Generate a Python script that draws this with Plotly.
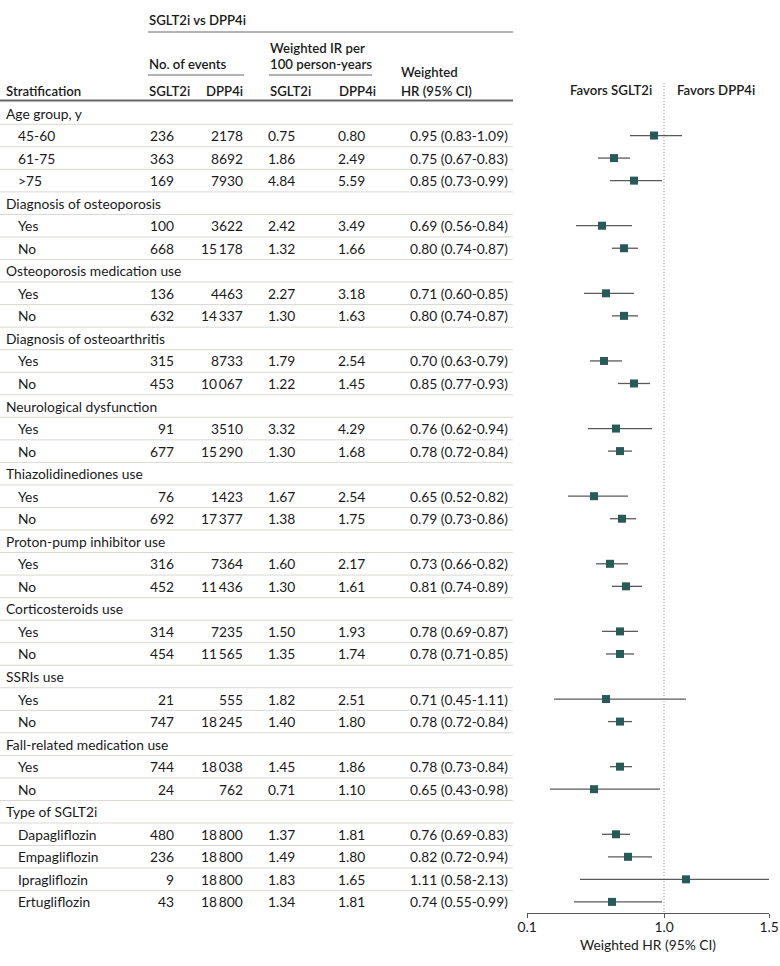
import plotly.graph_objects as go

# ---------------- data ----------------
row_labels = [
    "Age group, y", "45-60", "61-75", ">75",
    "Diagnosis of osteoporosis", "Yes", "No",
    "Osteoporosis medication use", "Yes", "No",
    "Diagnosis of osteoarthritis", "Yes", "No",
    "Neurological dysfunction", "Yes", "No",
    "Thiazolidinediones use", "Yes", "No",
    "Proton-pump inhibitor use", "Yes", "No",
    "Corticosteroids use", "Yes", "No",
    "SSRIs use", "Yes", "No",
    "Fall-related medication use", "Yes", "No",
    "Type of SGLT2i", "Dapagliflozin", "Empagliflozin", "Ipragliflozin", "Ertugliflozin",
]
is_group = [True, False, False, False] + [True, False, False] * 9 + [True, False, False, False, False]

sglt2_events = [None, 236, 363, 169, None, 100, 668, None, 136, 632, None, 315, 453,
                None, 91, 677, None, 76, 692, None, 316, 452, None, 314, 454,
                None, 21, 747, None, 744, 24, None, 480, 236, 9, 43]
dpp4_events = [None, 2178, 8692, 7930, None, 3622, 15178, None, 4463, 14337, None, 8733, 10067,
               None, 3510, 15290, None, 1423, 17377, None, 7364, 11436, None, 7235, 11565,
               None, 555, 18245, None, 18038, 762, None, 18800, 18800, 18800, 18800]
sglt2_ir = [None, 0.75, 1.86, 4.84, None, 2.42, 1.32, None, 2.27, 1.30, None, 1.79, 1.22,
            None, 3.32, 1.30, None, 1.67, 1.38, None, 1.60, 1.30, None, 1.50, 1.35,
            None, 1.82, 1.40, None, 1.45, 0.71, None, 1.37, 1.49, 1.83, 1.34]
dpp4_ir = [None, 0.80, 2.49, 5.59, None, 3.49, 1.66, None, 3.18, 1.63, None, 2.54, 1.45,
           None, 4.29, 1.68, None, 2.54, 1.75, None, 2.17, 1.61, None, 1.93, 1.74,
           None, 2.51, 1.80, None, 1.86, 1.10, None, 1.81, 1.80, 1.65, 1.81]
hr = [None, 0.95, 0.75, 0.85, None, 0.69, 0.80, None, 0.71, 0.80, None, 0.70, 0.85,
      None, 0.76, 0.78, None, 0.65, 0.79, None, 0.73, 0.81, None, 0.78, 0.78,
      None, 0.71, 0.78, None, 0.78, 0.65, None, 0.76, 0.82, 1.11, 0.74]
hr_lo = [None, 0.83, 0.67, 0.73, None, 0.56, 0.74, None, 0.60, 0.74, None, 0.63, 0.77,
         None, 0.62, 0.72, None, 0.52, 0.73, None, 0.66, 0.74, None, 0.69, 0.71,
         None, 0.45, 0.72, None, 0.73, 0.43, None, 0.69, 0.72, 0.58, 0.55]
hr_hi = [None, 1.09, 0.83, 0.99, None, 0.84, 0.87, None, 0.85, 0.87, None, 0.79, 0.93,
         None, 0.94, 0.84, None, 0.82, 0.86, None, 0.82, 0.89, None, 0.87, 0.85,
         None, 1.11, 0.84, None, 0.84, 0.98, None, 0.83, 0.94, 2.13, 0.99]

x_range = [0.315, 1.525]
tick_vals = [0.315, 1.0, 1.525]
tick_text = ["0.1", "1.0", "1.5"]

# ---------------- layout helpers ----------------
W, H = 780, 966
FONT = "Lato, 'Open Sans', sans-serif"
TXT = "#1a1a1a"
BODY = 13.8
HEAD = 13.2
ROW0, ROW_H = 113, 22.54
row_y = [ROW0 + i * ROW_H for i in range(len(row_labels))]
AX_Y = 913  # pixel y of forest axis line


def px(x):
    return x / W


def fmt_n(n):
    s = str(n)
    if n >= 10000:
        s = s[:-3] + "\u2009" + s[-3:]
    return s


annotations = []
shapes = []


def text(x, y, s, anchor="left", bold=False, size=None):
    if size is None:
        size = HEAD if bold else BODY
    annotations.append(dict(
        x=px(x), y=y, xref="paper", yref="y", text=s,
        showarrow=False, xanchor=anchor, yanchor="middle", borderpad=0,
        font=dict(family=FONT, size=size, color=TXT, weight=600 if bold else 400)))


def hline(x0, x1, y, color, width):
    shapes.append(dict(type="line", xref="paper", yref="y", x0=px(x0), x1=px(x1),
                       y0=y, y1=y, line=dict(color=color, width=width)))


# header
text(148, 20, "SGLT2i vs DPP4i", bold=True)
hline(148, 513, 32, "#666", 1)
text(269, 48, "Weighted IR per", bold=True)
text(148, 64, "No. of events", bold=True)
text(269, 64, "100 person-years", bold=True)
hline(148, 244, 75, "#666", 1)
hline(269, 372, 75, "#666", 1)
text(400, 72, "Weighted", bold=True)
text(5, 91, "Stratification", bold=True)
text(148, 91, "SGLT2i", bold=True)
text(205, 91, "DPP4i", bold=True)
text(269, 91, "SGLT2i", bold=True)
text(338, 91, "DPP4i", bold=True)
text(400, 91, "HR (95% CI)", bold=True)
hline(0, 513, 100.5, "#666", 2)

text(653, 90, "Favors SGLT2i", anchor="right", bold=True)
text(676, 90, "Favors DPP4i", anchor="left", bold=True)

# rows
for i, lab in enumerate(row_labels):
    y = row_y[i]
    if is_group[i]:
        text(5, y, lab)
    else:
        text(17, y, lab)
        text(175, y, fmt_n(sglt2_events[i]), anchor="right")
        text(244, y, fmt_n(dpp4_events[i]), anchor="right")
        text(296, y, f"{sglt2_ir[i]:.2f}", anchor="right")
        text(366, y, f"{dpp4_ir[i]:.2f}", anchor="right")
        text(509, y, f"{hr[i]:.2f} ({hr_lo[i]:.2f}-{hr_hi[i]:.2f})", anchor="right")
    if i < len(row_labels) - 1:
        hline(0, 513, y + ROW_H / 2, "#d8d8d2", 1)

# reference line at HR = 1
shapes.append(dict(type="line", xref="x", yref="y", x0=1.0, x1=1.0, y0=83, y1=AX_Y,
                   line=dict(color="#9a9a9a", width=1, dash="1px,2px")))

# ---------------- traces ----------------
ci_x, ci_y, pt_x, pt_y = [], [], [], []
for i in range(len(row_labels)):
    if hr[i] is None:
        continue
    ci_x += [hr_lo[i], hr_hi[i], None]
    ci_y += [row_y[i], row_y[i], None]
    pt_x.append(hr[i])
    pt_y.append(row_y[i])

fig = go.Figure()
fig.add_trace(go.Scatter(x=ci_x, y=ci_y, mode="lines", line=dict(color="#5a5a5a", width=1.3),
                         hoverinfo="skip", showlegend=False))
fig.add_trace(go.Scatter(x=pt_x, y=pt_y, mode="markers",
                         marker=dict(symbol="square", size=8, color="#285a58",
                                     line=dict(width=0)),
                         showlegend=False))

fig.update_layout(
    width=W, height=H, margin=dict(l=0, r=0, t=0, b=0, autoexpand=False),
    paper_bgcolor="white", plot_bgcolor="white",
    font=dict(family=FONT, size=BODY, color=TXT),
    annotations=annotations, shapes=shapes,
    xaxis=dict(domain=[px(527), px(769)], range=x_range, tickvals=tick_vals, ticktext=tick_text,
               showline=True, linecolor="#555", linewidth=1, ticks="outside", ticklen=4,
               tickcolor="#555", showgrid=False, zeroline=False, automargin=False,
               ticklabelstandoff=-3,
               tickfont=dict(family=FONT, size=BODY, color=TXT),
               title=dict(text="Weighted HR (95% CI)", standoff=6,
                          font=dict(family=FONT, size=BODY, color=TXT))),
    yaxis=dict(domain=[(H - AX_Y) / H, 1], range=[AX_Y, 0], visible=False),
)

fig.write_html("out.html", config={"displayModeBar": False},
               post_script="document.body.style.margin='0';")
